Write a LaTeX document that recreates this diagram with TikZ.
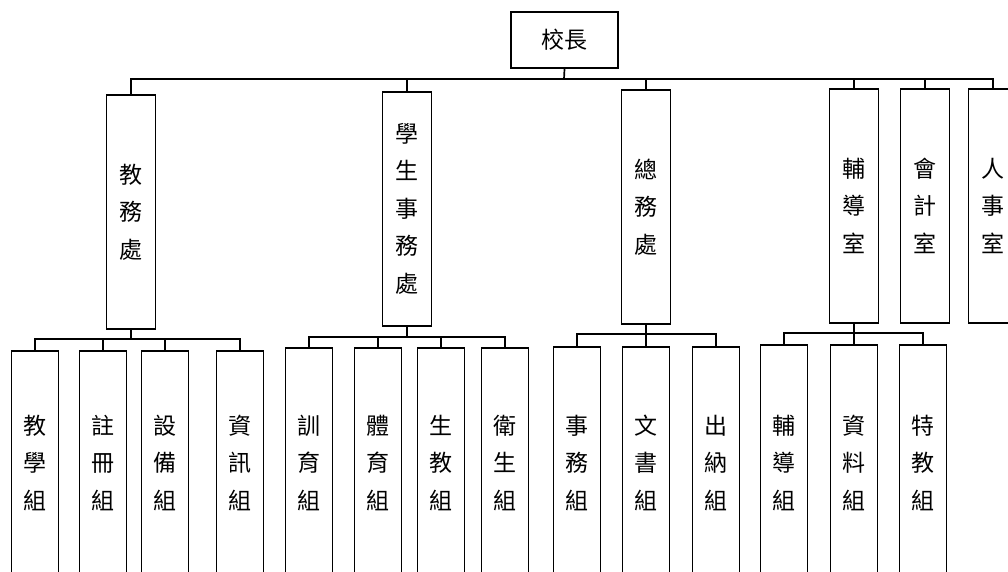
\documentclass[tikz,border=0pt]{standalone}
\usepackage{fontspec}
\newfontfamily\cjk{Noto Sans CJK TC}
\begin{document}
\begin{tikzpicture}[x=1pt,y=-1pt]
\tikzset{
 box/.style={draw, line width=1.7pt, inner sep=0pt, align=center, font=\cjk\fontsize{23}{37.5}\selectfont},
 topbox/.style={box, minimum width=49pt, minimum height=234pt, anchor=north},
 subbox/.style={box, minimum width=47pt, anchor=north},
 link/.style={line width=1.7pt}
}
\clip (0,0) rectangle (1008,571);
% principal
\node[box, minimum width=107pt, minimum height=56pt] (p) at (564.5,40) {校長};
% top level
\node[topbox] (j) at (131,94) {教\\務\\處};
\node[topbox] (s) at (407,91) {學\\生\\事\\務\\處};
\node[topbox] (g) at (646,89) {總\\務\\處};
\node[topbox] (f) at (854,88) {輔\\導\\室};
\node[topbox] (k) at (925,88) {會\\計\\室};
\node[topbox] (r) at (993,88) {人\\事\\室};
\coordinate (bus) at (564,79);
\draw[link] (p.south) -- (bus);
\foreach \c in {j,s,g,f,k,r} \draw[link] (bus) -| (\c.north);
% 教務處 group
\node[subbox, minimum height=224pt] (j1) at (35,350) {教\\學\\組};
\node[subbox, minimum height=224pt] (j2) at (103,350) {註\\冊\\組};
\node[subbox, minimum height=224pt] (j3) at (165,350) {設\\備\\組};
\node[subbox, minimum height=224pt] (j4) at (240,350) {資\\訊\\組};
\coordinate (jb) at (j.south |- 0,339);
\draw[link] (j.south) -- (jb);
\foreach \c in {j1,j2,j3,j4} \draw[link] (jb) -| (\c.north);
% 學生事務處 group
\node[subbox, minimum height=230pt] (s1) at (309,347) {訓\\育\\組};
\node[subbox, minimum height=230pt] (s2) at (378,347) {體\\育\\組};
\node[subbox, minimum height=230pt] (s3) at (441,347) {生\\教\\組};
\node[subbox, minimum height=230pt] (s4) at (505,347) {衛\\生\\組};
\coordinate (sb) at (s.south |- 0,337);
\draw[link] (s.south) -- (sb);
\foreach \c in {s1,s2,s3,s4} \draw[link] (sb) -| (\c.north);
% 總務處 group
\node[subbox, minimum height=232pt] (g1) at (577,346) {事\\務\\組};
\node[subbox, minimum height=232pt] (g2) at (646,346) {文\\書\\組};
\node[subbox, minimum height=232pt] (g3) at (716,346) {出\\納\\組};
\coordinate (gb) at (g.south |- 0,334);
\draw[link] (g.south) -- (gb);
\foreach \c in {g1,g2,g3} \draw[link] (gb) -| (\c.north);
% 輔導室 group
\node[subbox, minimum height=236pt] (f1) at (784,344) {輔\\導\\組};
\node[subbox, minimum height=236pt] (f2) at (854,344) {資\\料\\組};
\node[subbox, minimum height=236pt] (f3) at (923,344) {特\\教\\組};
\coordinate (fb) at (f.south |- 0,333);
\draw[link] (f.south) -- (fb);
\foreach \c in {f1,f2,f3} \draw[link] (fb) -| (\c.north);
\end{tikzpicture}
\end{document}
